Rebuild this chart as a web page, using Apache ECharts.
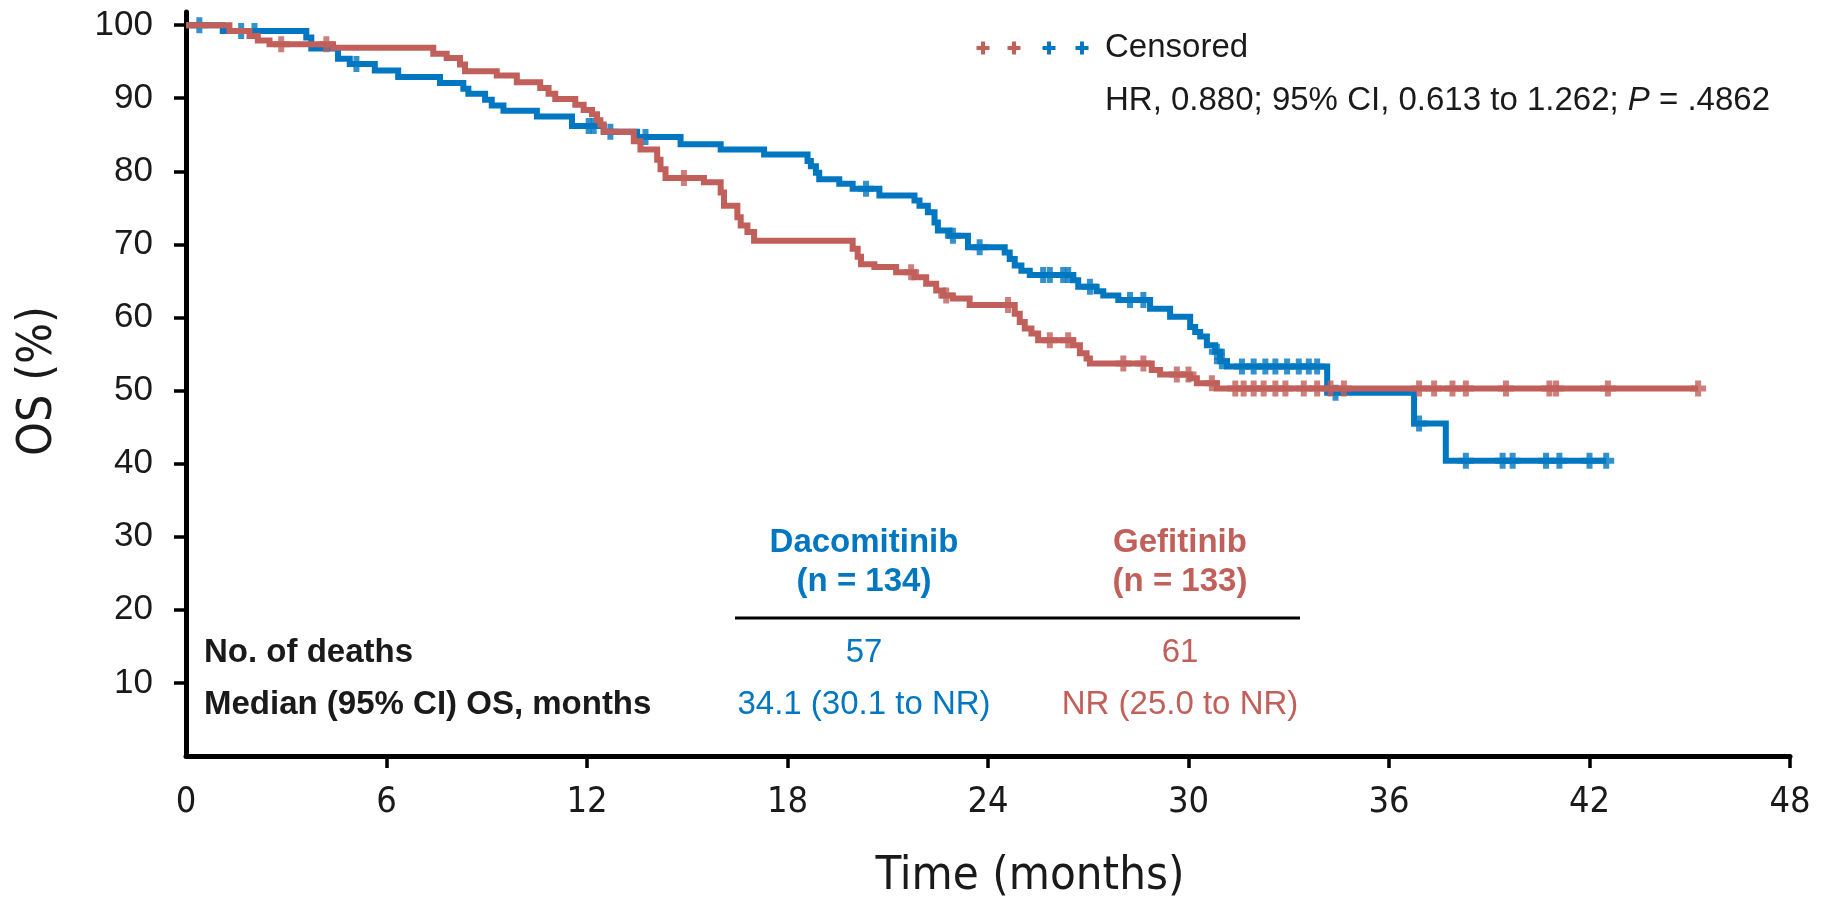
<!DOCTYPE html>
<html>
<head>
<meta charset="utf-8">
<title>Overall survival: dacomitinib vs gefitinib</title>
<script src="https://cdn.jsdelivr.net/npm/echarts@6/dist/echarts.min.js"></script>
<style>
  html, body { margin: 0; padding: 0; background: #fff; }
  #chart { width: 1824px; height: 904px; }
</style>
</head>
<body>
<div id="chart"></div>
<script>
// Kaplan–Meier steps: [month, OS % after the event]
const dacomitinibSteps = [
  [1.1, 99.2], [3.6, 98.3], [3.75, 96.8], [4.55, 95.4], [4.9, 94.7], [5.65, 93.8],
  [6.35, 92.9], [7.6, 92.1], [8.3, 91.3], [8.45, 90.6], [8.95, 89.8], [9.15, 89.0],
  [9.5, 88.3], [10.5, 87.5], [11.55, 86.2], [12.5, 85.4], [13.5, 84.7], [14.8, 83.7],
  [16.0, 83.0], [17.3, 82.3], [18.6, 81.4], [18.7, 80.7], [18.85, 79.8], [18.95, 78.9],
  [19.55, 78.3], [19.95, 77.6], [20.75, 76.7], [21.8, 76.0], [21.95, 75.3], [22.2, 74.4],
  [22.4, 73.0], [22.5, 71.9], [22.85, 71.2], [23.4, 69.6], [24.5, 68.9], [24.65, 68.0],
  [24.8, 67.1], [25.0, 66.4], [25.25, 65.8], [26.55, 65.1], [26.7, 64.2], [27.25, 63.6],
  [27.45, 63.0], [27.9, 62.4], [28.85, 61.2], [29.45, 60.1], [30.05, 58.7], [30.2, 58.0],
  [30.35, 57.4], [30.55, 56.2], [30.8, 55.3], [30.95, 54.0], [31.15, 53.3], [34.15, 49.7],
  [36.75, 45.5], [37.7, 40.4]
];
const gefitinibSteps = [
  [1.3, 99.2], [1.9, 98.5], [2.15, 97.9], [2.5, 97.4], [4.4, 96.9], [7.4, 96.1],
  [7.8, 95.5], [8.2, 94.6], [8.35, 93.7], [9.3, 93.1], [9.9, 92.2], [10.6, 91.4],
  [10.85, 90.6], [11.05, 89.9], [11.65, 89.1], [11.9, 88.4], [12.15, 87.8], [12.3, 87.0],
  [12.4, 86.4], [12.5, 85.4], [13.4, 84.1], [13.6, 83.0], [14.1, 81.6], [14.2, 80.3],
  [14.35, 79.1], [15.5, 78.5], [16.0, 77.1], [16.1, 75.3], [16.5, 73.7], [16.6, 72.6],
  [16.8, 71.7], [17.0, 70.5], [19.95, 69.4], [20.1, 68.3], [20.2, 67.3], [20.6, 66.9],
  [21.25, 66.2], [21.8, 65.5], [22.15, 64.6], [22.45, 63.7], [22.65, 63.0], [22.95, 62.6],
  [23.45, 61.7], [24.8, 60.5], [24.95, 59.4], [25.1, 58.5], [25.3, 57.8], [25.5, 56.9],
  [26.55, 56.2], [26.75, 55.1], [26.95, 54.4], [27.05, 53.7], [28.9, 52.8], [29.15, 52.2],
  [30.05, 51.7], [30.25, 51.0], [30.85, 50.3]
];
// Months at which patients were censored
const dacomitinibCensored = [
  0.4, 1.65, 2.05, 5.1, 12.05, 12.2, 12.7, 13.75, 20.35, 22.95, 23.75, 25.65, 25.85,
  26.25, 26.4, 27.05, 28.25, 28.65, 30.85, 31.0, 31.6, 31.95, 32.3, 32.6, 32.95, 33.3,
  33.6, 33.85, 34.4, 36.9, 38.3, 39.4, 39.7, 40.7, 41.1, 42.0, 42.5
];
const gefitinibCensored = [
  2.85, 4.2, 14.9, 21.7, 22.75, 24.6, 25.85, 26.4, 28.05, 28.65, 29.65, 30.0, 30.7,
  31.4, 31.65, 31.95, 32.25, 32.6, 32.9, 33.45, 33.85, 34.25, 34.65, 36.9, 37.35, 37.9,
  38.3, 39.5, 40.8, 41.0, 42.55, 45.25
];
const xTicks = [0, 6, 12, 18, 24, 30, 36, 42, 48];
const yTicks = [10, 20, 30, 40, 50, 60, 70, 80, 90, 100];

const BLUE = '#0077C0';
const RED = '#C1605A';
const INK = '#1a1a1a';
const SANS = "'Liberation Sans', Arial, sans-serif";
const NARROW = "'Liberation Sans Narrow', 'DejaVu Sans Condensed', 'Arial Narrow', sans-serif";

// value of a step curve at month t
function survivalAt(steps, t) {
  let v = 100;
  for (const [m, s] of steps) { if (m <= t) v = s; }
  return v;
}
function curve(steps, censored) {
  const end = censored[censored.length - 1];
  return [[0, 100]].concat(steps, [[end, survivalAt(steps, end)]]);
}
function marks(steps, censored) {
  return censored.map(t => [t, survivalAt(steps, t)]);
}

const PLUS = 'path://M5,0H11V5H16V11H11V16H5V11H0V5H5Z';

const chart = echarts.init(document.getElementById('chart'), null, { renderer: 'canvas' });

// small "+" used in the censoring key
function legendPlus(cx, color) {
  const a = 6.5, b = 2;
  const pts = [[-b, -a], [b, -a], [b, -b], [a, -b], [a, b], [b, b], [b, a], [-b, a], [-b, b], [-a, b], [-a, -b], [-b, -b]]
    .map(p => [cx + p[0], 48 + p[1]]);
  return { type: 'polygon', shape: { points: pts }, style: { fill: color } };
}
function txt(x, y, text, opts) {
  return { type: 'text', x: x, y: y,
           style: Object.assign({ text: text, fill: INK, font: '33px ' + SANS, textAlign: 'left', textVerticalAlign: 'middle' }, opts || {}) };
}

chart.setOption({
  animation: false,
  backgroundColor: '#fff',
  grid: { left: 186, right: 34, top: 12, bottom: 148, containLabel: false },
  xAxis: {
    type: 'value', min: 0, max: 48, interval: 6,
    axisLine: { show: true, onZero: false, lineStyle: { color: '#000', width: 5 } },
    axisTick: { show: true, length: 12, customValues: xTicks.slice(1), lineStyle: { color: '#000', width: 3.5 } },
    axisLabel: { customValues: xTicks, margin: 29, color: INK, fontSize: 36, fontFamily: NARROW },
    splitLine: { show: false }
  },
  yAxis: {
    type: 'value', min: 0, max: 101.8,
    axisLine: { show: true, onZero: false, lineStyle: { color: '#000', width: 5 } },
    axisTick: { show: true, length: 12, customValues: yTicks, lineStyle: { color: '#000', width: 3.5 } },
    axisLabel: { customValues: yTicks, margin: 33, color: INK, fontSize: 35, fontFamily: SANS },
    splitLine: { show: false }
  },
  series: [
    { name: 'Dacomitinib', type: 'line', step: 'end', showSymbol: false, symbol: 'none',
      data: curve(dacomitinibSteps, dacomitinibCensored),
      lineStyle: { color: BLUE, width: 6, join: 'miter', cap: 'butt' }, z: 2 },
    { name: 'Dacomitinib censored', type: 'scatter', symbol: PLUS, symbolSize: 16,
      data: marks(dacomitinibSteps, dacomitinibCensored), itemStyle: { color: BLUE }, z: 2 },
    { name: 'Gefitinib', type: 'line', step: 'end', showSymbol: false, symbol: 'none',
      data: curve(gefitinibSteps, gefitinibCensored),
      lineStyle: { color: RED, width: 6, join: 'miter', cap: 'butt' }, z: 3 },
    { name: 'Gefitinib censored', type: 'scatter', symbol: PLUS, symbolSize: 16,
      data: marks(gefitinibSteps, gefitinibCensored), itemStyle: { color: RED }, z: 3 }
  ],
  graphic: [
    // axis titles
    { type: 'text', x: 1030, y: 877, style: { text: 'Time (months)', fill: INK, font: '47px ' + NARROW, textAlign: 'center', textVerticalAlign: 'middle' } },
    { type: 'text', x: 39, y: 381, rotation: Math.PI / 2, style: { text: 'OS (%)', fill: INK, font: '48px ' + NARROW, textAlign: 'center', textVerticalAlign: 'middle' } },
    // censored key
    legendPlus(983, RED), legendPlus(1014, RED), legendPlus(1049, BLUE), legendPlus(1082, BLUE),
    txt(1105, 48, 'Censored'),
    { type: 'text', x: 1105, y: 101,
      style: { text: '{n|HR, 0.880; 95% CI, 0.613 to 1.262; }{i|P}{n| = .4862}', textVerticalAlign: 'middle',
               rich: { n: { font: '33px ' + SANS, fill: INK }, i: { font: 'italic 33px ' + SANS, fill: INK } } } },
    // summary table
    txt(864, 543, 'Dacomitinib', { fill: BLUE, font: 'bold 33px ' + SANS, textAlign: 'center' }),
    txt(864, 582, '(n = 134)', { fill: BLUE, font: 'bold 33px ' + SANS, textAlign: 'center' }),
    txt(1180, 543, 'Gefitinib', { fill: RED, font: 'bold 33px ' + SANS, textAlign: 'center' }),
    txt(1180, 582, '(n = 133)', { fill: RED, font: 'bold 33px ' + SANS, textAlign: 'center' }),
    { type: 'line', shape: { x1: 735, y1: 618, x2: 1300, y2: 618 }, style: { stroke: '#000', lineWidth: 3 } },
    txt(204, 653, 'No. of deaths', { font: 'bold 33px ' + SANS }),
    txt(864, 653, '57', { fill: BLUE, textAlign: 'center' }),
    txt(1180, 653, '61', { fill: RED, textAlign: 'center' }),
    txt(204, 705, 'Median (95% CI) OS, months', { font: 'bold 33px ' + SANS }),
    txt(864, 705, '34.1 (30.1 to NR)', { fill: BLUE, textAlign: 'center' }),
    txt(1180, 705, 'NR (25.0 to NR)', { fill: RED, textAlign: 'center' })
  ]
});
</script>
</body>
</html>
